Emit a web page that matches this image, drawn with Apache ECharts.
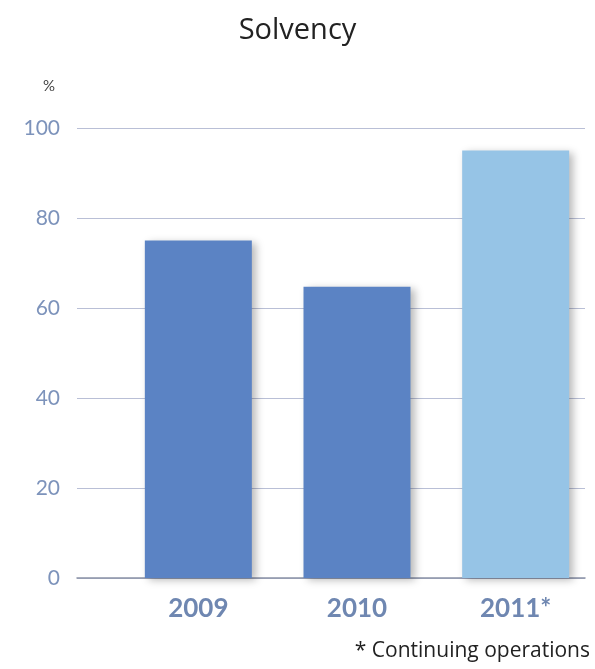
<!DOCTYPE html>
<html>
<head>
<meta charset="utf-8">
<script src="https://cdn.jsdelivr.net/npm/echarts@6/dist/echarts.min.js"></script>
<style>
  html, body { margin: 0; padding: 0; background: #fff; }
  #chart { width: 595px; height: 669px; }
</style>
</head>
<body>
<div id="chart"></div>
<script>
  const years = ['2009', '2010', '2011*'];
  const solvency = [75, 64.7, 95];
  const barColors = ['#5b83c4', '#5b83c4', '#96c4e6'];
  const yTicks = { min: 0, max: 100, interval: 20 };

  const chart = echarts.init(document.getElementById('chart'));

  const option = {
    animation: false,
    title: {
      text: 'Solvency',
      left: 'center',
      top: 11,
      textStyle: { fontFamily: 'Open Sans', fontWeight: 'normal', fontSize: 29, color: '#222' }
    },
    graphic: [
      {
        type: 'text',
        left: 43,
        top: 79,
        style: { text: '%', fontFamily: 'Lato', fontSize: 15, fill: '#444' }
      },
      {
        type: 'text',
        right: 5,
        top: 641,
        style: { text: '* Continuing operations', fontFamily: 'Open Sans', fontSize: 21, fill: '#222' }
      }
    ],
    grid: [
      { left: 77, right: 10, top: 128, bottom: 91 },
      { left: 119, width: 480, top: 128, bottom: 91 }
    ],
    xAxis: [
      {
        gridIndex: 0,
        type: 'category',
        data: years,
        axisLine: { lineStyle: { color: '#8a92a6', width: 1.5 } },
        axisTick: { show: false },
        axisLabel: { show: false }
      },
      {
        gridIndex: 1,
        type: 'category',
        data: years,
        axisLine: { show: false },
        axisTick: { show: false },
        axisLabel: {
          margin: 18,
          fontFamily: 'Lato',
          fontWeight: 'bold',
          fontSize: 26,
          color: '#6f87b1'
        }
      }
    ],
    yAxis: [
      {
        gridIndex: 0,
        type: 'value',
        min: yTicks.min,
        max: yTicks.max,
        interval: yTicks.interval,
        axisLine: { show: false },
        axisTick: { show: false },
        axisLabel: { margin: 17, fontFamily: 'Lato', fontSize: 21, color: '#7d93bb' },
        splitLine: { lineStyle: { color: '#b9bfd6', width: 1 } }
      },
      {
        gridIndex: 1,
        type: 'value',
        min: yTicks.min,
        max: yTicks.max,
        interval: yTicks.interval,
        show: false,
        splitLine: { show: false }
      }
    ],
    series: [
      {
        type: 'bar',
        xAxisIndex: 1,
        yAxisIndex: 1,
        barWidth: 107,
        data: solvency.map((v, i) => ({
          value: v,
          itemStyle: {
            color: barColors[i],
            shadowColor: 'rgba(0,0,0,0.28)',
            shadowBlur: 8,
            shadowOffsetX: 4,
            shadowOffsetY: 2
          }
        }))
      }
    ]
  };

  chart.setOption(option);
</script>
</body>
</html>
